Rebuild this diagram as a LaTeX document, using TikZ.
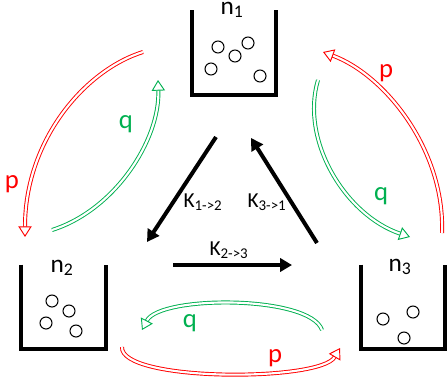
\documentclass[tikz,border=0pt]{standalone}
\usepackage{fontspec}
\setmainfont{Carlito}
\usetikzlibrary{arrows.meta,positioning}
\definecolor{pred}{HTML}{FF0000}
\definecolor{qgreen}{HTML}{00B050}

\begin{document}
\begin{tikzpicture}[
  x=0.75pt, y=-0.75pt, >=Triangle,
  vessel/.style={rectangle, inner sep=0pt, minimum width=63pt, minimum height=63pt},
  wall/.style={line width=3pt},
  ball/.style={circle, draw, line width=0.8pt, inner sep=0pt, minimum size=9pt},
  nlbl/.style={anchor=base, font=\fontsize{19}{20}\selectfont},
  klbl/.style={anchor=base, font=\fontsize{16}{18}\selectfont},
  flbl/.style={anchor=base, font=\fontsize{20}{22}\selectfont},
  rate/.style={line width=3pt, -{Triangle[length=9pt,width=10pt]}},
  flow/.style={double, double distance=1.6pt, line width=0.7pt, -{Triangle[open,length=8pt,width=10pt]}},
]
\useasboundingbox (0,0) rectangle (448,382);

% Vessels
\node[vessel] (v1) at (234,52.5) {};
\node[vessel] (v2) at (63.5,307) {};
\node[vessel] (v3) at (403,307) {};
\foreach \v in {v1,v2,v3}{
  \draw[wall] (\v.north west) -- (\v.south west) -- (\v.south east) -- (\v.north east);
}
\node[nlbl] (n1) at (232,14) {n\textsubscript{1}};
\node[nlbl] (n2) at (62,272) {n\textsubscript{2}};
\node[nlbl] (n3) at (400,271) {n\textsubscript{3}};

% Particles
\foreach \x/\y [count=\i] in {218/47,248/43,235/56,211/69,260/76}{
  \node[ball] (pa\i) at (\x,\y) {};
}
\foreach \x/\y [count=\i] in {52/301,69/311,46/323,76/331}{
  \node[ball] (pb\i) at (\x,\y) {};
}
\foreach \x/\y [count=\i] in {383/319,413/312,404/338}{
  \node[ball] (pc\i) at (\x,\y) {};
}

% Rate arrows
\coordinate (r12a) at (216,137);
\coordinate (r12b) at (147,242);
\coordinate (r31a) at (317,243);
\coordinate (r31b) at (251,138);
\coordinate (r23a) at (173,265);
\coordinate (r23b) at (292,265);
\draw[rate] (r12a) -- (r12b);
\draw[rate] (r31a) -- (r31b);
\draw[rate] (r23a) -- (r23b);
\node[klbl] (k12) at (203,207) {K\textsubscript{1->2}};
\node[klbl] (k31) at (267,207) {K\textsubscript{3->1}};
\node[klbl] (k23) at (229,255) {K\textsubscript{2->3}};

% Exchange arrows
\coordinate (pl0) at (143,52);  \coordinate (pl1) at (25,237);
\coordinate (ql0) at (52,230);  \coordinate (ql1) at (158,80);
\coordinate (pr0) at (442,233); \coordinate (pr1) at (323,52);
\coordinate (qr0) at (318,80);  \coordinate (qr1) at (410,237);
\coordinate (qb0) at (322,330); \coordinate (qb1) at (142,330);
\coordinate (pb0) at (122,347); \coordinate (pb1) at (340,348);
\draw[flow, pred] (pl0) .. controls (85,70) and (25,140) .. (pl1);
\draw[flow, qgreen] (ql0) .. controls (115,210) and (160,140) .. (ql1);
\draw[flow, pred] (pr0) .. controls (445,150) and (385,75) .. (pr1);
\draw[flow, qgreen] (qr0) .. controls (300,140) and (345,215) .. (qr1);
\draw[flow, qgreen] (qb0) .. controls (310,295) and (160,295) .. (qb1);
\draw[flow, pred] (pb0) .. controls (120,382) and (320,382) .. (pb1);
\node[flbl, text=pred] (lp1) at (12,188) {p};
\node[flbl, text=qgreen] (lq1) at (126,128) {q};
\node[flbl, text=pred] (lp2) at (386,77) {p};
\node[flbl, text=qgreen] (lq2) at (381,200) {q};
\node[flbl, text=qgreen] (lq3) at (190,327) {q};
\node[flbl, text=pred] (lp3) at (275,362) {p};

\end{tikzpicture}
\end{document}
